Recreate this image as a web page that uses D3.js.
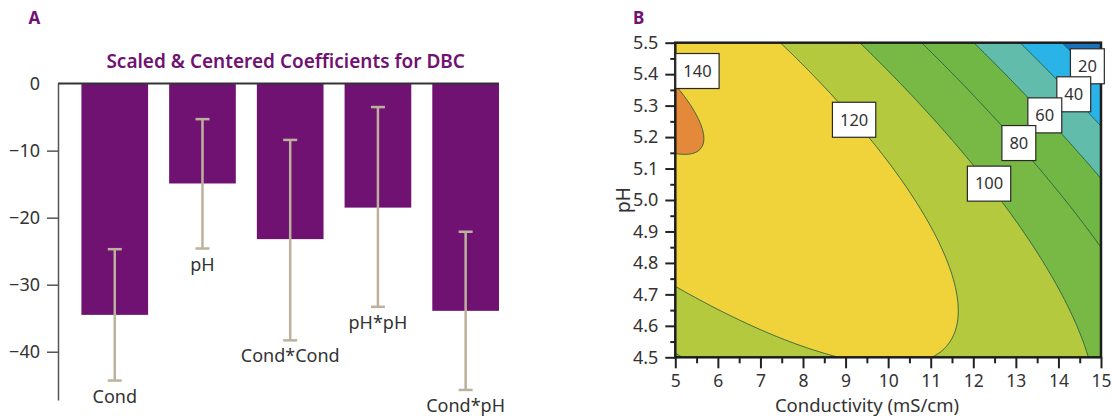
<!DOCTYPE html>
<html>
<head>
<meta charset="utf-8">
<script src="https://cdn.jsdelivr.net/npm/d3@7"></script>
<style>
body { margin: 0; background: #fff; }
svg text { font-family: "Noto Sans", sans-serif; }
</style>
</head>
<body>
<div id="chart"></div>
<script>
// Panel A: scaled & centered coefficients with confidence intervals
var terms = ["Cond", "pH", "Cond*Cond", "pH*pH", "Cond*pH"];
var coef = [-34.5, -14.9, -23.2, -18.5, -33.9];
var ciLow = [-44.3, -24.6, -38.3, -33.3, -45.7];
var ciHigh = [-24.7, -5.3, -8.4, -3.5, -22.1];
var coefTicks = [0, -10, -20, -30, -40];

// Panel B: DBC response surface of the same model (constant term)
var intercept = 124.7;
var condDomain = [5, 15];
var phDomain = [4.5, 5.5];
var condTicks = [5, 6, 7, 8, 9, 10, 11, 12, 13, 14, 15];
var phTicks = [4.5, 4.6, 4.7, 4.8, 4.9, 5.0, 5.1, 5.2, 5.3, 5.4, 5.5];
var levels = [20, 40, 60, 80, 100, 120, 140];
var levelColors = ["#1a72b9", "#2ab3e6", "#62bcab", "#70b745", "#78b946", "#b5c93f", "#f0d33a", "#e4893a"];
var labelCond = [14.68, 14.36, 13.68, 13.07, 12.37, 9.20, 5.52];
var labelPH = [5.425, 5.336, 5.269, 5.181, 5.052, 5.255, 5.410];

var purple = "#6f1271";
var textColor = "#333";

var svg = d3.select("#chart").append("svg")
    .attr("width", 1112)
    .attr("height", 418);

svg.append("rect")
    .attr("width", 1112)
    .attr("height", 418)
    .attr("fill", "#fff");

// ---------- Panel A ----------
var yA = d3.scaleLinear().domain([-47.2, 0]).range([400, 83.6]);
var xA = d3.scaleBand().domain(terms).range([70.9, 509.5]).paddingInner(0.24).paddingOuter(0.12);

var gA = svg.append("g");

gA.append("text")
    .attr("x", 28.5)
    .attr("y", 24)
    .attr("fill", purple)
    .attr("font-size", "17px")
    .attr("font-weight", "bold")
    .text("A");

gA.append("text")
    .attr("x", 285.7)
    .attr("y", 68)
    .attr("text-anchor", "middle")
    .attr("fill", purple)
    .attr("font-size", "19px")
    .attr("font-weight", 600)
    .text("Scaled & Centered Coefficients for DBC");

gA.selectAll(".bar")
    .data(terms)
  .enter().append("rect")
    .attr("class", "bar")
    .attr("x", function(d) { return xA(d); })
    .attr("y", yA(0))
    .attr("width", xA.bandwidth())
    .attr("height", function(d, i) { return yA(coef[i]) - yA(0); })
    .attr("fill", purple);

var axisA = gA.append("g")
    .attr("transform", "translate(58,0)")
    .call(d3.axisLeft(yA).tickValues(coefTicks).tickSize(11).tickSizeOuter(0).tickPadding(7));
axisA.select(".domain").attr("stroke", "#555").attr("stroke-width", 1.5);
axisA.selectAll(".tick line").attr("stroke", "#555").attr("stroke-width", 1.5);
axisA.selectAll(".tick").filter(function(d) { return d === 0; }).select("line").remove();
axisA.selectAll(".tick text").attr("font-size", "18px").attr("fill", textColor);

gA.append("line")
    .attr("x1", 58)
    .attr("x2", 499)
    .attr("y1", yA(0))
    .attr("y2", yA(0))
    .attr("stroke", "#333")
    .attr("stroke-width", 2);

var err = gA.selectAll(".err")
    .data(terms)
  .enter().append("g")
    .attr("class", "err")
    .attr("stroke", "#bdb19d")
    .attr("stroke-width", 2.5);

err.append("line")
    .attr("x1", function(d) { return xA(d) + xA.bandwidth() / 2; })
    .attr("x2", function(d) { return xA(d) + xA.bandwidth() / 2; })
    .attr("y1", function(d, i) { return yA(ciHigh[i]); })
    .attr("y2", function(d, i) { return yA(ciLow[i]); });

err.append("line")
    .attr("x1", function(d) { return xA(d) + xA.bandwidth() / 2 - 7; })
    .attr("x2", function(d) { return xA(d) + xA.bandwidth() / 2 + 7; })
    .attr("y1", function(d, i) { return yA(ciHigh[i]); })
    .attr("y2", function(d, i) { return yA(ciHigh[i]); });

err.append("line")
    .attr("x1", function(d) { return xA(d) + xA.bandwidth() / 2 - 7; })
    .attr("x2", function(d) { return xA(d) + xA.bandwidth() / 2 + 7; })
    .attr("y1", function(d, i) { return yA(ciLow[i]); })
    .attr("y2", function(d, i) { return yA(ciLow[i]); });

gA.selectAll(".term")
    .data(terms)
  .enter().append("text")
    .attr("class", "term")
    .attr("x", function(d) { return xA(d) + xA.bandwidth() / 2; })
    .attr("y", function(d, i) { return yA(ciLow[i]) + 22; })
    .attr("text-anchor", "middle")
    .attr("font-size", "18px")
    .attr("fill", textColor)
    .text(function(d) { return d; });

// ---------- Panel B ----------
var pLeft = 675.3, pRight = 1101, pTop = 42.7, pBottom = 357.3;
var xB = d3.scaleLinear().domain(condDomain).range([pLeft, pRight]);
var yB = d3.scaleLinear().domain(phDomain).range([pBottom, pTop]);

// fitted model in scaled units (-1..+1), coefficients from panel A
function dbc(cond, ph) {
    var c = (cond - 10) / 5;
    var p = (ph - 5) / 0.5;
    return intercept + coef[0] * c + coef[1] * p + coef[2] * c * c + coef[3] * p * p + coef[4] * c * p;
}

var q = 2;
var gx = pLeft - q, gy = pTop - q;
var nx = Math.ceil((pRight - pLeft) / q) + 2;
var ny = Math.ceil((pBottom - pTop) / q) + 2;
var grid = new Array(nx * ny);
for (var j = 0; j < ny; ++j) {
    for (var i = 0; i < nx; ++i) {
        grid[j * nx + i] = dbc(xB.invert(gx + (i + 0.5) * q), yB.invert(gy + (j + 0.5) * q));
    }
}

var contours = d3.contours().size([nx, ny]).thresholds(levels)(grid);
contours.forEach(function(c) {
    c.coordinates = c.coordinates.map(function(poly) {
        return poly.map(function(ring) {
            return ring.map(function(pt) { return [gx + pt[0] * q, gy + pt[1] * q]; });
        });
    });
});

var path = d3.geoPath();

svg.append("clipPath")
    .attr("id", "plotclip")
  .append("rect")
    .attr("x", pLeft)
    .attr("y", pTop)
    .attr("width", pRight - pLeft)
    .attr("height", pBottom - pTop);

var gB = svg.append("g");

var surf = gB.append("g").attr("clip-path", "url(#plotclip)");

surf.append("rect")
    .attr("x", pLeft)
    .attr("y", pTop)
    .attr("width", pRight - pLeft)
    .attr("height", pBottom - pTop)
    .attr("fill", levelColors[0]);

surf.selectAll(".band")
    .data(contours)
  .enter().append("path")
    .attr("class", "band")
    .attr("d", path)
    .attr("fill", function(d, i) { return levelColors[i + 1]; });

surf.selectAll(".iso")
    .data(contours)
  .enter().append("path")
    .attr("class", "iso")
    .attr("d", path)
    .attr("fill", "none")
    .attr("stroke", "#22573f")
    .attr("stroke-opacity", 0.85)
    .attr("stroke-width", 1);

// axes
var axB = gB.append("g")
    .attr("class", "xmajor")
    .attr("transform", "translate(0," + pBottom + ")")
    .call(d3.axisBottom(xB).tickValues(condTicks).tickSize(11).tickPadding(6).tickSizeOuter(0));
gB.append("g")
    .attr("transform", "translate(0," + pBottom + ")")
    .call(d3.axisBottom(xB).tickValues(d3.range(5.5, 15, 1)).tickSize(6).tickFormat("").tickSizeOuter(0));

var ayB = gB.append("g")
    .attr("transform", "translate(" + pLeft + ",0)")
    .call(d3.axisLeft(yB).tickValues(phTicks).tickFormat(d3.format(".1f")).tickSize(10).tickPadding(7).tickSizeOuter(0));
gB.append("g")
    .attr("transform", "translate(" + pLeft + ",0)")
    .call(d3.axisLeft(yB).tickValues(d3.range(4.55, 5.5, 0.1)).tickSize(5).tickFormat("").tickSizeOuter(0));

gB.selectAll(".domain").remove();
gB.selectAll(".tick line").attr("stroke", "#222").attr("stroke-width", 2);
gB.selectAll(".tick text").attr("font-size", "18px").attr("fill", textColor);
axB.selectAll(".tick text").attr("font-size", "17.5px");

gB.append("rect")
    .attr("x", pLeft)
    .attr("y", pTop)
    .attr("width", pRight - pLeft)
    .attr("height", pBottom - pTop)
    .attr("fill", "none")
    .attr("stroke", "#1e1e1e")
    .attr("stroke-width", 2.5);

gB.append("text")
    .attr("x", 867)
    .attr("y", 412)
    .attr("text-anchor", "middle")
    .attr("font-size", "18.5px")
    .attr("fill", textColor)
    .text("Conductivity (mS/cm)");

gB.append("text")
    .attr("transform", "translate(630," + ((pTop + pBottom) / 2) + ") rotate(-90)")
    .attr("text-anchor", "middle")
    .attr("font-size", "19px")
    .attr("fill", textColor)
    .text("pH");

gB.append("text")
    .attr("x", 633)
    .attr("y", 23.5)
    .attr("fill", purple)
    .attr("font-size", "17px")
    .attr("font-weight", "bold")
    .text("B");

// contour level labels
var lab = gB.selectAll(".lab")
    .data(levels)
  .enter().append("g")
    .attr("class", "lab")
    .attr("transform", function(d, i) { return "translate(" + xB(labelCond[i]) + "," + yB(labelPH[i]) + ")"; });

lab.append("text")
    .attr("text-anchor", "middle")
    .attr("dy", "0.35em")
    .attr("font-size", "16.5px")
    .attr("fill", textColor)
    .text(function(d) { return d; });

lab.insert("rect", "text")
    .each(function() {
        var w = this.parentNode.querySelector("text").getComputedTextLength() + 15;
        d3.select(this)
            .attr("x", -w / 2)
            .attr("y", -17.5)
            .attr("width", w)
            .attr("height", 35);
    })
    .attr("fill", "#fff")
    .attr("stroke", "#2a2a2a")
    .attr("stroke-width", 1.2);
</script>
</body>
</html>
